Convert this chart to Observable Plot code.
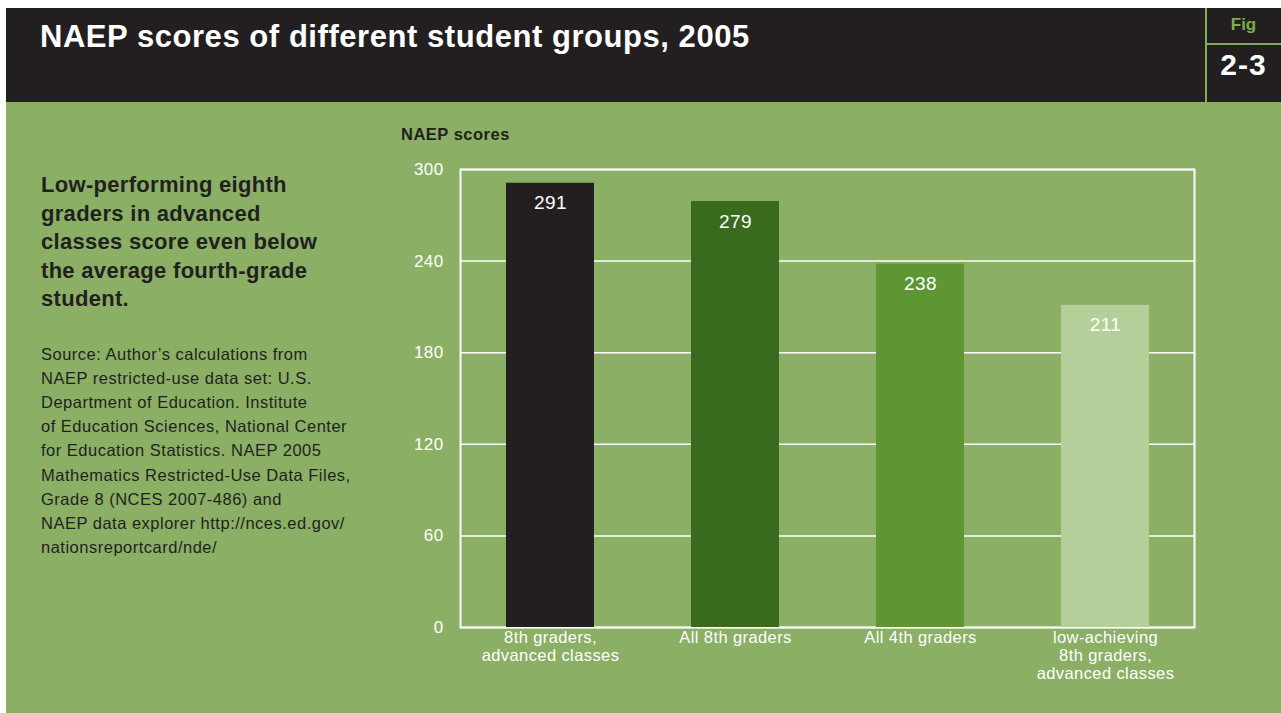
<!DOCTYPE html>
<html>
<head>
<meta charset="utf-8">
<script src="https://cdn.jsdelivr.net/npm/d3@7"></script>
<script src="https://cdn.jsdelivr.net/npm/@observablehq/plot@0.6"></script>
<style>
  html, body { margin: 0; padding: 0; background: #ffffff; }
  body { width: 1281px; height: 713px; position: relative; overflow: hidden; font-family: "Liberation Sans", Arial, sans-serif; }
  #header { position: absolute; left: 6px; top: 8px; width: 1275px; height: 94px; background: #231f20; }
  #panel { position: absolute; left: 6px; top: 102px; width: 1275px; height: 611px; background: #8aaf65; }
  .abs { position: absolute; white-space: nowrap; }
  #title { left: 40px; top: 21.4px; font-size: 31px; line-height: 31px; letter-spacing: 0.55px; font-weight: bold; color: #ffffff; }
  #figv { left: 1205px; top: 8px; width: 2px; height: 94px; background: #7fae58; }
  #figh { left: 1206px; top: 43px; width: 75px; height: 2px; background: #7fae58; }
  #figlab { left: 1206px; width: 75px; text-align: center; top: 16.4px; font-size: 17px; line-height: 17px; font-weight: bold; color: #7ab04a; }
  #fignum { left: 1206px; width: 75px; text-align: center; top: 49.6px; font-size: 30px; line-height: 30px; letter-spacing: 1px; font-weight: bold; color: #ffffff; }
  #headline { left: 41px; top: 171px; font-size: 22px; line-height: 28.5px; letter-spacing: 0.3px; font-weight: bold; color: #231f20; }
  #source { left: 41px; top: 341.5px; font-size: 16.5px; line-height: 24.2px; letter-spacing: 0.5px; color: #231f20; }
  #ylabel { left: 401px; top: 125.5px; font-size: 16.5px; line-height: 16px; letter-spacing: 0.5px; font-weight: bold; color: #231f20; }
  #chart { position: absolute; left: 380px; top: 102px; }
  #chart svg text { letter-spacing: 0.4px; }
</style>
</head>
<body>
<div id="header"></div>
<div id="panel"></div>
<div class="abs" id="title">NAEP scores of different student groups, 2005</div>
<div class="abs" id="figv"></div>
<div class="abs" id="figh"></div>
<div class="abs" id="figlab">Fig</div>
<div class="abs" id="fignum">2-3</div>
<div class="abs" id="headline">Low-performing eighth<br>graders in advanced<br>classes score even below<br>the average fourth-grade<br>student.</div>
<div class="abs" id="source">Source: Author’s calculations from<br>NAEP restricted-use data set: U.S.<br>Department of Education. Institute<br>of Education Sciences, National Center<br>for Education Statistics. NAEP 2005<br>Mathematics Restricted-Use Data Files,<br>Grade 8 (NCES 2007-486) and<br>NAEP data explorer http://nces.ed.gov/<br>nationsreportcard/nde/</div>
<div class="abs" id="ylabel">NAEP scores</div>
<div id="chart"></div>
<script>
const categories = [
  "8th graders, advanced classes",
  "All 8th graders",
  "All 4th graders",
  "low-achieving 8th graders, advanced classes"
];
const scores = [291, 279, 238, 211];
const tickLabels = [
  "8th graders,\nadvanced classes",
  "All 8th graders",
  "All 4th graders",
  "low-achieving\n8th graders,\nadvanced classes"
];
const yTicks = [0, 60, 120, 180, 240, 300];
const barColors = ["#231f20", "#3a6a1e", "#5d9632", "#b5cf9b"];

const data = categories.map((c, i) => ({group: c, score: scores[i]}));

const chart = Plot.plot({
  width: 901,
  height: 611,
  marginLeft: 80,
  marginRight: 87,
  marginTop: 67,
  marginBottom: 86,
  style: {background: "transparent", fontFamily: "'Liberation Sans', Arial, sans-serif", color: "#ffffff", overflow: "visible"},
  x: {domain: categories, paddingInner: 0.525, paddingOuter: 0.243, label: null, axis: null},
  y: {domain: [0, 300], label: null, axis: null},
  color: {domain: categories, range: barColors},
  marks: [
    Plot.gridY(yTicks, {stroke: "#ffffff", strokeOpacity: 1, strokeWidth: 1.5}),
    Plot.frame({stroke: "#ffffff", strokeWidth: 2}),
    Plot.barY(data, {x: "group", y: "score", fill: "group"}),
    Plot.text(data, {x: "group", y: "score", text: d => String(d.score), dy: 20, fill: "#ffffff", fontSize: 19}),
    Plot.axisY(yTicks, {tickSize: 0, tickPadding: 17, fontSize: 17, fill: "#ffffff", label: null}),
    Plot.axisX(categories, {tickSize: 0, tickPadding: 3, fontSize: 16.5, lineHeight: 1.09, fill: "#ffffff", label: null,
      tickFormat: d => tickLabels[categories.indexOf(d)]})
  ]
});
document.getElementById("chart").appendChild(chart);
</script>
</body>
</html>
